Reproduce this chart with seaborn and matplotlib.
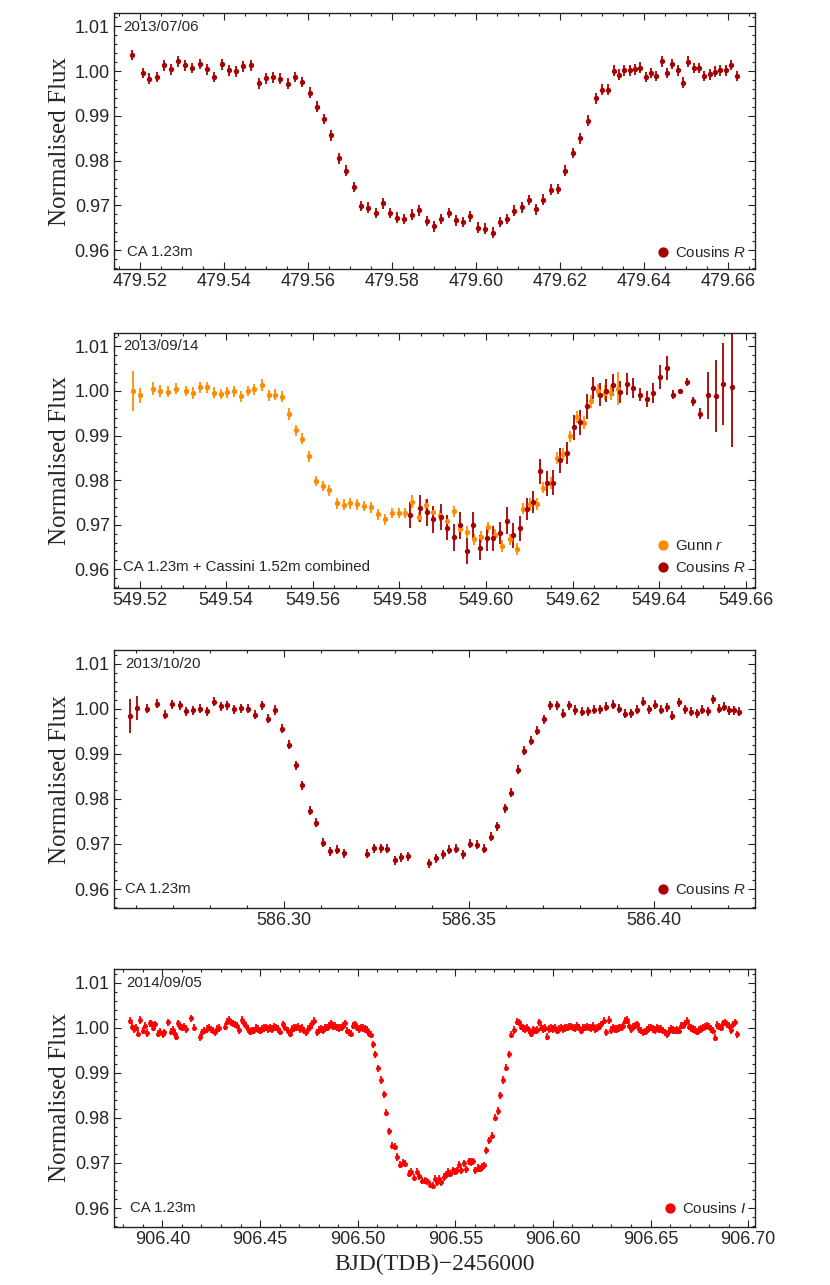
import matplotlib
matplotlib.use("Agg")
import matplotlib.pyplot as plt
from matplotlib.lines import Line2D
from matplotlib.ticker import MultipleLocator, FormatStrFormatter
import seaborn as sns

# 2013/07/06, CA 1.23m, Cousins R
p1_time = [479.5182, 479.5206, 479.5222, 479.5240, 479.5256, 479.5273, 479.5290, 479.5308, 479.5325, 479.5343,
           479.5360, 479.5377, 479.5395, 479.5412, 479.5429, 479.5446, 479.5464, 479.5483, 479.5500, 479.5517,
           479.5534, 479.5552, 479.5569, 479.5587, 479.5604, 479.5621, 479.5639, 479.5656, 479.5674, 479.5691,
           479.5709, 479.5726, 479.5744, 479.5761, 479.5779, 479.5796, 479.5813, 479.5830, 479.5848, 479.5865,
           479.5883, 479.5900, 479.5917, 479.5935, 479.5952, 479.5970, 479.5987, 479.6005, 479.6022, 479.6040,
           479.6057, 479.6075, 479.6092, 479.6110, 479.6127, 479.6144, 479.6161, 479.6179, 479.6196, 479.6213,
           479.6231, 479.6248, 479.6266, 479.6287, 479.6301, 479.6316, 479.6329, 479.6341, 479.6354, 479.6367,
           479.6379, 479.6392, 479.6405, 479.6417, 479.6430, 479.6443, 479.6456, 479.6468, 479.6481, 479.6494,
           479.6506, 479.6519, 479.6532, 479.6544, 479.6557, 479.6570, 479.6582, 479.6595, 479.6608, 479.6622]
p1_flux = [1.0036, 0.9996, 0.9983, 0.9987, 1.0013, 1.0004, 1.0022, 1.0013, 1.0007, 1.0016,
           1.0004, 0.9987, 1.0015, 1.0002, 1.0000, 1.0011, 1.0013, 0.9973, 0.9984, 0.9986,
           0.9983, 0.9972, 0.9987, 0.9976, 0.9952, 0.9921, 0.9893, 0.9857, 0.9805, 0.9778,
           0.9741, 0.9699, 0.9695, 0.9683, 0.9705, 0.9683, 0.9673, 0.9670, 0.9679, 0.9689,
           0.9665, 0.9653, 0.9670, 0.9683, 0.9667, 0.9663, 0.9676, 0.9650, 0.9648, 0.9639,
           0.9663, 0.9670, 0.9688, 0.9696, 0.9712, 0.9691, 0.9713, 0.9735, 0.9737, 0.9778,
           0.9817, 0.9850, 0.9889, 0.9939, 0.9959, 0.9959, 1.0001, 0.9992, 1.0002, 1.0002,
           1.0004, 1.0008, 0.9987, 0.9996, 0.9989, 1.0022, 0.9996, 1.0016, 1.0002, 0.9974,
           1.0021, 1.0007, 1.0007, 0.9989, 0.9993, 0.9999, 1.0002, 1.0002, 1.0014, 0.9989]
p1_err = 0.0012

# 2013/09/14, Gunn r (CA 1.23m)
gunn_time = [549.5184, 549.5202, 549.5232, 549.5247, 549.5265, 549.5285, 549.5308, 549.5324, 549.5339, 549.5356,
             549.5372, 549.5387, 549.5402, 549.5419, 549.5435, 549.5450, 549.5465, 549.5482, 549.5498, 549.5513,
             549.5528, 549.5545, 549.5561, 549.5576, 549.5592, 549.5608, 549.5623, 549.5638, 549.5655, 549.5671,
             549.5687, 549.5702, 549.5718, 549.5735, 549.5751, 549.5766, 549.5782, 549.5798, 549.5813, 549.5829,
             549.5845, 549.5861, 549.5877, 549.5893, 549.5909, 549.5925, 549.5941, 549.5956, 549.5972, 549.5988,
             549.6004, 549.6021, 549.6038, 549.6055, 549.6071, 549.6086, 549.6102, 549.6117, 549.6132, 549.6149,
             549.6164, 549.6178, 549.6195, 549.6211, 549.6226, 549.6242, 549.6258, 549.6274, 549.6289, 549.6305]
gunn_flux = [1.0000, 0.9990, 1.0005, 1.0000, 0.9998, 1.0005, 1.0000, 0.9996, 1.0008, 1.0008,
             0.9996, 0.9993, 0.9997, 0.9999, 0.9988, 1.0000, 1.0004, 1.0013, 0.9990, 0.9992,
             0.9987, 0.9948, 0.9912, 0.9893, 0.9853, 0.9798, 0.9787, 0.9777, 0.9748, 0.9745,
             0.9748, 0.9746, 0.9742, 0.9739, 0.9723, 0.9712, 0.9726, 0.9726, 0.9726, 0.9752,
             0.9717, 0.9745, 0.9728, 0.9721, 0.9708, 0.9730, 0.9691, 0.9683, 0.9667, 0.9673,
             0.9694, 0.9678, 0.9652, 0.9667, 0.9646, 0.9736, 0.9747, 0.9747, 0.9783, 0.9793,
             0.9849, 0.9858, 0.9898, 0.9942, 0.9929, 0.9977, 1.0001, 0.9996, 0.9996, 1.0005]
gunn_err = [0.0045, 0.0017, 0.0014, 0.0014, 0.0012, 0.0012, 0.0012, 0.0013, 0.0012, 0.0012,
            0.0012, 0.0012, 0.0012, 0.0012, 0.0012, 0.0012, 0.0012, 0.0013, 0.0012, 0.0012,
            0.0012, 0.0013, 0.0012, 0.0012, 0.0012, 0.0012, 0.0012, 0.0012, 0.0012, 0.0012,
            0.0012, 0.0012, 0.0012, 0.0012, 0.0012, 0.0012, 0.0012, 0.0012, 0.0012, 0.0015,
            0.0012, 0.0012, 0.0012, 0.0012, 0.0013, 0.0013, 0.0013, 0.0013, 0.0013, 0.0013,
            0.0013, 0.0013, 0.0013, 0.0013, 0.0013, 0.0013, 0.0013, 0.0013, 0.0013, 0.0013,
            0.0013, 0.0013, 0.0013, 0.0013, 0.0015, 0.0015, 0.0015, 0.0017, 0.0017, 0.0037]

# 2013/09/14, Cousins R (Cassini 1.52m)
cous_time = [549.5824, 549.5848, 549.5863, 549.5878, 549.5895, 549.5910, 549.5925, 549.5941, 549.5956, 549.5971,
             549.5986, 549.6002, 549.6017, 549.6032, 549.6048, 549.6063, 549.6078, 549.6094, 549.6109, 549.6125,
             549.6140, 549.6155, 549.6171, 549.6186, 549.6202, 549.6217, 549.6232, 549.6248, 549.6263, 549.6278,
             549.6294, 549.6309, 549.6325, 549.6340, 549.6355, 549.6371, 549.6386, 549.6402, 549.6417, 549.6432,
             549.6448, 549.6463, 549.6478, 549.6495, 549.6513, 549.6530, 549.6547, 549.6567]
cous_flux = [0.9722, 0.9737, 0.9728, 0.9712, 0.9717, 0.9693, 0.9672, 0.9699, 0.9641, 0.9699,
             0.9648, 0.9670, 0.9670, 0.9681, 0.9709, 0.9676, 0.9692, 0.9736, 0.9751, 0.9820,
             0.9793, 0.9794, 0.9844, 0.9861, 0.9919, 0.9930, 0.9966, 1.0007, 0.9992, 1.0001,
             1.0014, 0.9998, 1.0016, 1.0007, 0.9992, 0.9981, 0.9996, 1.0031, 1.0052, 0.9992,
             0.9999, 1.0020, 0.9977, 0.9949, 0.9990, 0.9989, 1.0016, 1.0009]
cous_err = [0.0030, 0.0030, 0.0030, 0.0030, 0.0030, 0.0028, 0.0030, 0.0030, 0.0030, 0.0030,
            0.0028, 0.0028, 0.0028, 0.0025, 0.0030, 0.0028, 0.0028, 0.0025, 0.0025, 0.0028,
            0.0028, 0.0028, 0.0028, 0.0025, 0.0028, 0.0028, 0.0028, 0.0025, 0.0025, 0.0025,
            0.0025, 0.0025, 0.0025, 0.0022, 0.0015, 0.0018, 0.0022, 0.0027, 0.0027, 0.0010,
            0.0005, 0.0010, 0.0010, 0.0012, 0.0052, 0.0080, 0.0092, 0.0135]

# 2013/10/20, CA 1.23m, Cousins R
p3_time = [586.2585, 586.2602, 586.2631, 586.2656, 586.2680, 586.2699, 586.2718, 586.2736, 586.2755, 586.2773,
           586.2792, 586.2810, 586.2829, 586.2847, 586.2866, 586.2884, 586.2903, 586.2922, 586.2940, 586.2958,
           586.2977, 586.2995, 586.3014, 586.3032, 586.3050, 586.3070, 586.3088, 586.3106, 586.3125, 586.3144,
           586.3162, 586.3225, 586.3243, 586.3262, 586.3280, 586.3299, 586.3317, 586.3336, 586.3391, 586.3410,
           586.3429, 586.3447, 586.3466, 586.3485, 586.3503, 586.3522, 586.3540, 586.3559, 586.3577, 586.3597,
           586.3615, 586.3632, 586.3650, 586.3667, 586.3684, 586.3702, 586.3720, 586.3737, 586.3754, 586.3771,
           586.3787, 586.3805, 586.3821, 586.3838, 586.3855, 586.3871, 586.3888, 586.3905, 586.3922, 586.3937,
           586.3953, 586.3970, 586.3986, 586.4002, 586.4018, 586.4034, 586.4050, 586.4067, 586.4083, 586.4099,
           586.4115, 586.4131, 586.4145, 586.4160, 586.4175, 586.4189, 586.4202, 586.4216, 586.4230]
p3_flux = [0.9983, 1.0001, 1.0000, 1.0011, 0.9987, 1.0010, 1.0007, 0.9994, 0.9996, 1.0000,
           0.9994, 1.0015, 1.0005, 1.0007, 0.9999, 1.0001, 1.0000, 0.9987, 1.0007, 0.9978,
           0.9997, 0.9955, 0.9920, 0.9874, 0.9830, 0.9774, 0.9747, 0.9703, 0.9684, 0.9687,
           0.9679, 0.9678, 0.9690, 0.9690, 0.9689, 0.9664, 0.9670, 0.9673, 0.9657, 0.9668,
           0.9677, 0.9687, 0.9689, 0.9677, 0.9701, 0.9698, 0.9689, 0.9716, 0.9739, 0.9779,
           0.9813, 0.9864, 0.9907, 0.9929, 0.9951, 0.9977, 1.0008, 1.0007, 0.9989, 1.0007,
           0.9997, 0.9993, 0.9994, 0.9998, 0.9999, 1.0004, 1.0009, 1.0000, 0.9989, 0.9990,
           0.9998, 1.0015, 0.9999, 1.0009, 0.9998, 1.0003, 0.9984, 1.0014, 0.9999, 0.9993,
           0.9990, 0.9998, 0.9994, 1.0021, 1.0000, 1.0004, 0.9996, 0.9996, 0.9993]
p3_err = [0.0038, 0.0027] + [0.0010] * 87

# 2014/09/05, CA 1.23m, Cousins I
p4_time = [906.3832, 906.3844, 906.3854, 906.3864, 906.3874, 906.3886, 906.3898, 906.3910, 906.3922, 906.3934,
           906.3944, 906.3953, 906.3963, 906.3979, 906.3989, 906.4001, 906.4009, 906.4030, 906.4042, 906.4052,
           906.4062, 906.4071, 906.4081, 906.4091, 906.4102, 906.4112, 906.4122, 906.4148, 906.4161, 906.4190,
           906.4202, 906.4214, 906.4226, 906.4237, 906.4247, 906.4259, 906.4269, 906.4279, 906.4291, 906.4320,
           906.4332, 906.4342, 906.4353, 906.4363, 906.4373, 906.4383, 906.4394, 906.4406, 906.4416, 906.4426,
           906.4436, 906.4447, 906.4457, 906.4467, 906.4477, 906.4488, 906.4498, 906.4508, 906.4518, 906.4529,
           906.4539, 906.4549, 906.4559, 906.4570, 906.4580,
           906.4592, 906.4604, 906.4617, 906.4629, 906.4641, 906.4651, 906.4663, 906.4674, 906.4684, 906.4694,
           906.4704, 906.4715, 906.4725, 906.4735, 906.4745, 906.4756, 906.4766, 906.4776, 906.4790, 906.4800,
           906.4810, 906.4821, 906.4831, 906.4841, 906.4851, 906.4862, 906.4872, 906.4882, 906.4892, 906.4903,
           906.4913, 906.4923, 906.4933, 906.4943, 906.4954, 906.4964, 906.4974, 906.4984, 906.4995, 906.5005,
           906.5015, 906.5025, 906.5036, 906.5046, 906.5056, 906.5066, 906.5077, 906.5090, 906.5104, 906.5118,
           906.5133, 906.5147, 906.5160, 906.5176, 906.5189, 906.5203, 906.5217, 906.5230, 906.5244, 906.5261,
           906.5275, 906.5288, 906.5302, 906.5316, 906.5329, 906.5343, 906.5357, 906.5370, 906.5384, 906.5394,
           906.5406, 906.5418, 906.5428, 906.5440, 906.5452, 906.5463, 906.5475, 906.5487, 906.5497, 906.5509,
           906.5521, 906.5531, 906.5543, 906.5555, 906.5568, 906.5582, 906.5592, 906.5603, 906.5615, 906.5625,
           906.5637, 906.5645, 906.5659, 906.5674, 906.5686, 906.5702, 906.5717, 906.5731, 906.5744, 906.5760,
           906.5773, 906.5787, 906.5801, 906.5814, 906.5828, 906.5838, 906.5849, 906.5859, 906.5869, 906.5879,
           906.5890, 906.5900, 906.5910, 906.5920, 906.5931, 906.5941, 906.5951, 906.5961, 906.5972, 906.5982,
           906.5992, 906.6002, 906.6013, 906.6023, 906.6033, 906.6043, 906.6053, 906.6064, 906.6074, 906.6084,
           906.6094, 906.6105, 906.6115, 906.6125, 906.6135, 906.6146, 906.6156, 906.6166, 906.6176, 906.6187,
           906.6197, 906.6207, 906.6217,
           906.6228, 906.6238, 906.6248, 906.6260, 906.6272, 906.6286, 906.6299, 906.6310, 906.6320, 906.6330,
           906.6340, 906.6351, 906.6361, 906.6371, 906.6381, 906.6392, 906.6402, 906.6412, 906.6422, 906.6433,
           906.6443, 906.6453, 906.6463, 906.6474, 906.6484, 906.6494, 906.6504, 906.6515, 906.6525, 906.6535,
           906.6545, 906.6556, 906.6566, 906.6576, 906.6586, 906.6597, 906.6607, 906.6617, 906.6627, 906.6637,
           906.6648, 906.6658, 906.6668, 906.6678, 906.6689, 906.6699, 906.6709, 906.6719, 906.6730, 906.6740,
           906.6750, 906.6760, 906.6771, 906.6781, 906.6791, 906.6801, 906.6812, 906.6822, 906.6830, 906.6842,
           906.6853, 906.6863, 906.6873, 906.6883, 906.6894, 906.6904, 906.6914, 906.6924, 906.6935, 906.6945]
p4_flux = [1.0015, 1.0002, 0.9997, 1.0000, 0.9987, 1.0017, 0.9993, 1.0004, 0.9988, 1.0010,
           1.0010, 1.0000, 1.0007, 0.9987, 0.9991, 0.9985, 0.9990, 1.0012, 0.9991, 0.9995,
           0.9987, 0.9980, 1.0010, 1.0002, 1.0000, 1.0002, 0.9997, 1.0021, 1.0000, 0.9979,
           0.9990, 0.9993, 0.9997, 1.0000, 0.9996, 0.9993, 0.9990, 0.9997, 0.9999, 1.0002,
           1.0013, 1.0017, 1.0012, 1.0010, 1.0007, 1.0004, 0.9995, 1.0017, 1.0010, 1.0004,
           0.9997, 0.9991, 0.9993, 0.9994, 0.9999, 0.9997, 0.9993, 0.9997, 0.9999, 1.0000,
           0.9997, 0.9999, 0.9997, 1.0002, 1.0000,
           0.9997, 0.9991, 1.0007, 1.0000, 0.9993, 0.9987, 0.9997, 0.9999, 1.0000, 1.0002,
           0.9997, 1.0000, 0.9993, 0.9990, 0.9997, 1.0002, 1.0010, 1.0015, 0.9990, 0.9995,
           0.9997, 0.9995, 0.9999, 1.0000, 1.0004, 1.0010, 1.0002, 1.0004, 1.0000, 0.9999,
           1.0000, 1.0004, 1.0010, 0.9993, 0.9990, 0.9987, 1.0004, 1.0007, 1.0000, 0.9997,
           1.0000, 0.9999, 0.9997, 0.9995, 0.9987, 0.9984, 0.9963, 0.9941, 0.9910, 0.9884,
           0.9852, 0.9811, 0.9770, 0.9738, 0.9736, 0.9713, 0.9696, 0.9701, 0.9698, 0.9676,
           0.9680, 0.9667, 0.9681, 0.9671, 0.9661, 0.9661, 0.9659, 0.9652, 0.9650, 0.9665,
           0.9658, 0.9665, 0.9658, 0.9669, 0.9674, 0.9680, 0.9676, 0.9684, 0.9681, 0.9684,
           0.9696, 0.9684, 0.9699, 0.9686, 0.9704, 0.9702, 0.9704, 0.9684, 0.9689, 0.9687,
           0.9691, 0.9695, 0.9728, 0.9750, 0.9760, 0.9800, 0.9815, 0.9850, 0.9884, 0.9911,
           0.9941, 0.9984, 0.9995, 1.0013, 1.0012, 1.0002, 0.9999, 0.9997, 1.0000, 0.9994,
           0.9987, 0.9995, 0.9993, 0.9995, 1.0012, 1.0000, 0.9997, 0.9999, 0.9980, 0.9997,
           0.9999, 0.9997, 1.0000, 0.9993, 0.9997, 1.0000, 0.9997, 0.9999, 1.0000, 1.0002,
           1.0002, 1.0000, 0.9999, 1.0004, 1.0000, 0.9993, 0.9999, 1.0000, 1.0002, 1.0000,
           0.9999, 1.0004, 0.9997,
           0.9999, 1.0002, 1.0007, 1.0015, 0.9990, 1.0017, 0.9995, 0.9999, 0.9997, 0.9997,
           0.9999, 1.0000, 1.0004, 1.0015, 1.0017, 1.0004, 0.9997, 1.0002, 1.0004, 1.0007,
           0.9997, 0.9993, 0.9990, 0.9991, 0.9995, 0.9999, 1.0000, 0.9997, 0.9995, 0.9999,
           0.9997, 0.9997, 0.9993, 0.9990, 0.9985, 0.9993, 0.9997, 0.9995, 0.9993, 0.9995,
           0.9993, 1.0004, 1.0004, 1.0010, 1.0015, 1.0002, 0.9999, 0.9997, 0.9995, 0.9991,
           0.9995, 0.9997, 1.0000, 1.0002, 1.0004, 1.0002, 0.9997, 0.9993, 0.9978, 1.0006,
           1.0002, 1.0000, 1.0010, 1.0012, 1.0007, 1.0004, 0.9995, 1.0007, 1.0012, 0.9985]
p4_err = 0.0008

DARK_RED = '#a80000'
ORANGE = '#ff8c00'
RED = '#ff0000'
SANS = ['Liberation Sans', 'DejaVu Sans']
SERIF = ['Liberation Serif', 'DejaVu Serif']

sns.set_style("ticks")
plt.rcParams['font.family'] = SANS
plt.rcParams['mathtext.fontset'] = 'custom'
plt.rcParams['mathtext.rm'] = 'Liberation Sans'
plt.rcParams['mathtext.it'] = 'Liberation Sans:italic'

W, H = 830, 1285
fig = plt.figure(figsize=(W / 100, H / 100), dpi=100)


def make_axes(top, bottom, left=114, right=755):
    return fig.add_axes([left / W, 1 - bottom / H, (right - left) / W, (bottom - top) / H])


def draw(ax, t, f, err, color, size, lw):
    ax.errorbar(t, f, yerr=err, fmt='none', ecolor=color, elinewidth=lw, capsize=0, zorder=2)
    sns.scatterplot(x=t, y=f, color=color, s=size, linewidth=0, ax=ax, zorder=3, legend=False)


def style(ax, xlim, xmajor, xminor, date, date_pos, inst, inst_pos, entries, leg_anchor):
    ax.set_xlim(*xlim)
    ax.set_ylim(0.9558, 1.0130)
    ax.xaxis.set_major_locator(MultipleLocator(xmajor))
    ax.xaxis.set_minor_locator(MultipleLocator(xminor))
    ax.xaxis.set_major_formatter(FormatStrFormatter('%.2f'))
    ax.yaxis.set_major_locator(MultipleLocator(0.01))
    ax.yaxis.set_minor_locator(MultipleLocator(0.002))
    ax.yaxis.set_major_formatter(FormatStrFormatter('%.2f'))
    ax.tick_params(which='both', direction='in', top=True, right=True, width=0.8, color='#222222')
    ax.tick_params(which='major', length=5, labelsize=13, pad=3)
    ax.tick_params(which='minor', length=2.5)
    for sp in ax.spines.values():
        sp.set_linewidth(1.0)
        sp.set_color('#222222')
    ax.set_xlabel('')
    ax.set_ylabel('Normalised Flux', fontsize=18, family=SERIF, va='center')
    ax.yaxis.set_label_coords(-0.084, 0.5)
    ax.text(date_pos[0], date_pos[1], date, transform=ax.transAxes, fontsize=10.8, va='center', ha='left')
    ax.text(inst_pos[0], inst_pos[1], inst, transform=ax.transAxes, fontsize=10.8, va='center', ha='left')
    handles = [Line2D([], [], ls='none', marker='o', markersize=7.4, color=c, markeredgewidth=0)
               for c, _ in entries]
    ax.legend(handles, [lab for _, lab in entries], loc='lower right', bbox_to_anchor=leg_anchor,
              frameon=False, fontsize=10.8, handlelength=0.7, handletextpad=0.45,
              borderpad=0, borderaxespad=0, labelspacing=0.45)


ax1 = make_axes(13, 269)
draw(ax1, p1_time, p1_flux, p1_err, DARK_RED, 15, 1.3)
style(ax1, (479.5138, 479.6665), 0.02, 0.005, '2013/07/06', (0.014, 0.947), 'CA 1.23m', (0.020, 0.066),
      [(DARK_RED, r'Cousins $\mathit{R}$')], (0.986, 0.035))

ax2 = make_axes(333, 588)
draw(ax2, gunn_time, gunn_flux, gunn_err, ORANGE, 15, 1.3)
draw(ax2, cous_time, cous_flux, cous_err, DARK_RED, 15, 1.3)
style(ax2, (549.5141, 549.6621), 0.02, 0.005, '2013/09/14', (0.014, 0.950),
      'CA 1.23m + Cassini 1.52m combined', (0.014, 0.082),
      [(ORANGE, r'Gunn $\mathit{r}$'), (DARK_RED, r'Cousins $\mathit{R}$')], (0.986, 0.050))

ax3 = make_axes(650, 908)
draw(ax3, p3_time, p3_flux, p3_err, DARK_RED, 15, 1.3)
style(ax3, (586.2541, 586.4273), 0.05, 0.01, '2013/10/20', (0.017, 0.944), 'CA 1.23m', (0.017, 0.074),
      [(DARK_RED, r'Cousins $\mathit{R}$')], (0.986, 0.043))

ax4 = make_axes(969, 1227)
draw(ax4, p4_time, p4_flux, p4_err, RED, 13, 1.3)
style(ax4, (906.3752, 906.7035), 0.05, 0.01, '2014/09/05', (0.019, 0.944), 'CA 1.23m', (0.025, 0.074),
      [(RED, r'Cousins $\mathit{I}$')], (0.986, 0.043))
ax4.set_xlabel('BJD(TDB)\u22122456000', fontsize=17, family=SERIF, va='center')
ax4.xaxis.set_label_coords(0.5, -0.147)

fig.savefig('out.png', dpi=100, facecolor='white')
